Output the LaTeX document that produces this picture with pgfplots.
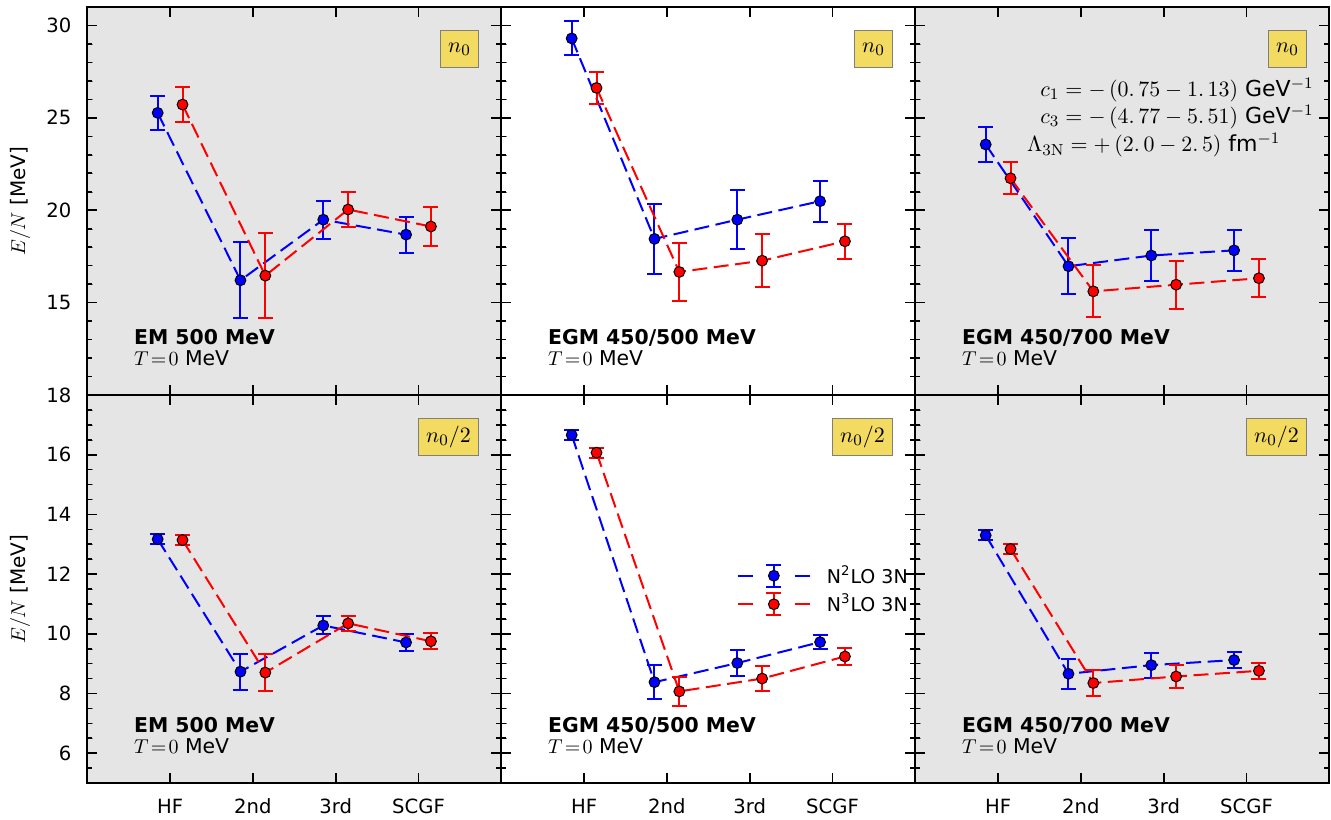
\documentclass[border=0pt]{standalone}
\usepackage[no-math]{fontspec}
\setmainfont{DejaVu Sans}
\usepackage{pgfplots}
\pgfplotsset{compat=1.18}
\usepgfplotslibrary{groupplots}
\usetikzlibrary{calc}

\definecolor{panelgray}{HTML}{E5E5E5}
\definecolor{boxyellow}{HTML}{F3DA60}
\definecolor{boxedge}{HTML}{7F7F7F}

\pgfplotsset{
  panel/.style={
    width=207pt, height=194pt, scale only axis,
    xmin=-1, xmax=4, xtick={0,1,2,3},
    xticklabels={HF,2nd,3rd,SCGF},
    every outer x axis line/.append style={line width=1pt},
    every outer y axis line/.append style={line width=1pt},
    /pgf/number format/assume math mode=true,
    tick label style={font=\fontsize{9.8}{11}\selectfont},
    xticklabel style={yshift=-4.5pt},
    yticklabel style={xshift=-4.5pt},
    ylabel style={at={(axis description cs:-0.1626,0.5)}, anchor=center, font=\fontsize{10}{12}\selectfont},
  },
  toprow/.style={ymin=10, ymax=31, ytick={15,20,25,30}, minor y tick num=4},
  botrow/.style={ymin=5, ymax=18, ytick={6,8,...,18}, minor y tick num=3},
  gray bg/.style={axis background/.style={fill=panelgray}},
  series/.style={
    color=#1, dash pattern=on 7.5pt off 3.25pt, line width=1pt,
    mark=*, mark size=2.7pt,
    mark options={solid, fill=#1, draw=black, line width=0.5pt},
    error bars/y dir=both, error bars/y explicit,
    error bars/error bar style={solid, line width=1pt, color=#1},
    error bars/error mark=-,
    error bars/error mark options={rotate=90, solid, mark size=3.75pt, line width=1pt, color=#1},
  },
}
\tikzset{
  tk/.style={black, line width=0.8pt, solid},
  nlab/.style={draw=boxedge, fill=boxyellow, anchor=north east, minimum height=18.5pt,
    inner xsep=4pt, line width=0.6pt, font=\fontsize{11}{13}\selectfont},
  plab/.style={anchor=base west, inner sep=0pt, font=\bfseries\fontsize{10.2}{12}\selectfont},
  tlab/.style={anchor=base west, inner sep=0pt, font=\fontsize{10.2}{12}\selectfont},
  clab/.style={anchor=base west, inner sep=0pt, font=\fontsize{11}{13}\selectfont},
}

% inward ticks on the four sides of a panel:
% #1 panel name, #2 number of y steps, #3 major y steps, #4 minor divisions
\newcommand{\panelticks}[4]{%
  \foreach \t in {0.2,0.4,0.6,0.8} {
    \draw[tk] ($(#1.south west)!\t!(#1.south east)$) -- ++(0,5pt);
    \draw[tk] ($(#1.north west)!\t!(#1.north east)$) -- ++(0,-5pt);
  }
  \foreach \k in {#3} {
    \draw[tk] ($(#1.south west)!{\k/#2}!(#1.north west)$) -- ++(5pt,0);
    \draw[tk] ($(#1.south east)!{\k/#2}!(#1.north east)$) -- ++(-5pt,0);
  }
  \foreach \k in {1,...,#4} {
    \draw[tk] ($(#1.south west)!{\k/(#4+1)}!(#1.north west)$) -- ++(2.5pt,0);
    \draw[tk] ($(#1.south east)!{\k/(#4+1)}!(#1.north east)$) -- ++(-2.5pt,0);
  }
}

\begin{document}
\begin{tikzpicture}
\begin{groupplot}[
  group style={group name=G, group size=3 by 2, horizontal sep=0pt, vertical sep=0pt,
    xticklabels at=edge bottom, yticklabels at=edge left, ylabels at=edge left},
  panel,
]
% ---- n0, EM 500
\nextgroupplot[toprow, gray bg, ylabel={$E/N$ [MeV]}]
\addplot[series=blue] coordinates {
  (-0.15,25.27) +- (0,0.92) (0.85,16.21) +- (0,2.05) (1.85,19.49) +- (0,1.02) (2.85,18.68) +- (0,0.97)};
\addplot[series=red] coordinates {
  (0.15,25.72) +- (0,0.97) (1.15,16.46) +- (0,2.30) (2.15,20.04) +- (0,0.97) (3.15,19.12) +- (0,1.05)};
\node[nlab] at (rel axis cs:0.947,0.941) {$n_0$};
\node[plab] at (rel axis cs:0.112,0.131) {EM 500 MeV};
\node[tlab] at (rel axis cs:0.112,0.077) {$T\!=\!0$ MeV};
% ---- n0, EGM 450/500
\nextgroupplot[toprow]
\addplot[series=blue] coordinates {
  (-0.15,29.30) +- (0,0.92) (0.85,18.45) +- (0,1.90) (1.85,19.49) +- (0,1.60) (2.85,20.49) +- (0,1.12)};
\addplot[series=red] coordinates {
  (0.15,26.62) +- (0,0.85) (1.15,16.66) +- (0,1.56) (2.15,17.27) +- (0,1.45) (3.15,18.32) +- (0,0.95)};
\node[nlab] at (rel axis cs:0.947,0.941) {$n_0$};
\node[plab] at (rel axis cs:0.112,0.131) {EGM 450/500 MeV};
\node[tlab] at (rel axis cs:0.112,0.077) {$T\!=\!0$ MeV};
% ---- n0, EGM 450/700
\nextgroupplot[toprow, gray bg]
\addplot[series=blue] coordinates {
  (-0.15,23.56) +- (0,0.93) (0.85,16.97) +- (0,1.52) (1.85,17.55) +- (0,1.37) (2.85,17.83) +- (0,1.12)};
\addplot[series=red] coordinates {
  (0.15,21.73) +- (0,0.87) (1.15,15.61) +- (0,1.40) (2.15,15.97) +- (0,1.31) (3.15,16.32) +- (0,1.03)};
\node[nlab] at (rel axis cs:0.947,0.941) {$n_0$};
\node[plab] at (rel axis cs:0.112,0.131) {EGM 450/700 MeV};
\node[tlab] at (rel axis cs:0.112,0.077) {$T\!=\!0$ MeV};
\node[clab] at (rel axis cs:0.301,0.769) {$c_1=-\,(0.\,75-1.\,13)$ GeV$^{-1}$};
\node[clab] at (rel axis cs:0.301,0.700) {$c_3=-\,(4.\,77-5.\,51)$ GeV$^{-1}$};
\node[clab] at (rel axis cs:0.269,0.627) {$\Lambda_{\mathrm{3N}}=+\,(2.\,0-2.\,5)$ fm$^{-1}$};
% ---- n0/2, EM 500
\nextgroupplot[botrow, gray bg, ylabel={$E/N$ [MeV]}]
\addplot[series=blue] coordinates {
  (-0.15,13.17) +- (0,0.17) (0.85,8.73) +- (0,0.60) (1.85,10.28) +- (0,0.30) (2.85,9.71) +- (0,0.27)};
\addplot[series=red] coordinates {
  (0.15,13.14) +- (0,0.17) (1.15,8.70) +- (0,0.63) (2.15,10.35) +- (0,0.26) (3.15,9.75) +- (0,0.27)};
\node[nlab] at (rel axis cs:0.947,0.941) {$n_0/2$};
\node[plab] at (rel axis cs:0.112,0.129) {EM 500 MeV};
\node[tlab] at (rel axis cs:0.112,0.075) {$T\!=\!0$ MeV};
% ---- n0/2, EGM 450/500
\nextgroupplot[botrow,
  legend style={draw=none, fill=none, at={(rel axis cs:0.568,0.572)}, anchor=north west,
    inner sep=0pt, font=\fontsize{9.5}{11}\selectfont, row sep=0pt,
    legend cell align=left},
  legend image code/.code={%
    \draw[#1, solid, mark=none] (0pt,0pt) -- (7.5pt,0pt) (28.5pt,0pt) -- (36pt,0pt);%
    \draw[#1, solid, mark=none] (14.25pt,-5.5pt) -- (21.75pt,-5.5pt) (18pt,-5.5pt) -- (18pt,5.5pt) (14.25pt,5.5pt) -- (21.75pt,5.5pt);%
    \path[#1] plot coordinates {(18pt,0pt)};%
  },
]
\addplot[series=blue] coordinates {
  (-0.15,16.66) +- (0,0.17) (0.85,8.38) +- (0,0.58) (1.85,9.02) +- (0,0.45) (2.85,9.72) +- (0,0.24)};
\addlegendentry{\hspace*{6pt}N\textsuperscript{2}LO 3N}
\addplot[series=red] coordinates {
  (0.15,16.07) +- (0,0.17) (1.15,8.07) +- (0,0.48) (2.15,8.50) +- (0,0.41) (3.15,9.24) +- (0,0.27)};
\addlegendentry{\hspace*{6pt}N\textsuperscript{3}LO 3N}
\node[nlab] at (rel axis cs:0.947,0.941) {$n_0/2$};
\node[plab] at (rel axis cs:0.112,0.129) {EGM 450/500 MeV};
\node[tlab] at (rel axis cs:0.112,0.075) {$T\!=\!0$ MeV};
% ---- n0/2, EGM 450/700
\nextgroupplot[botrow, gray bg]
\addplot[series=blue] coordinates {
  (-0.15,13.30) +- (0,0.17) (0.85,8.66) +- (0,0.50) (1.85,8.95) +- (0,0.42) (2.85,9.12) +- (0,0.28)};
\addplot[series=red] coordinates {
  (0.15,12.84) +- (0,0.17) (1.15,8.35) +- (0,0.45) (2.15,8.57) +- (0,0.40) (3.15,8.76) +- (0,0.27)};
\node[nlab] at (rel axis cs:0.947,0.941) {$n_0/2$};
\node[plab] at (rel axis cs:0.112,0.129) {EGM 450/700 MeV};
\node[tlab] at (rel axis cs:0.112,0.075) {$T\!=\!0$ MeV};
\end{groupplot}
% tick marks: top row spans 10..31 (21 units), bottom row 5..18 (13 units, minor every 0.5)
\panelticks{G c1r1}{21}{5,10,15,20}{20}
\panelticks{G c2r1}{21}{5,10,15,20}{20}
\panelticks{G c3r1}{21}{5,10,15,20}{20}
\panelticks{G c1r2}{13}{1,3,5,7,9,11,13}{25}
\panelticks{G c2r2}{13}{1,3,5,7,9,11,13}{25}
\panelticks{G c3r2}{13}{1,3,5,7,9,11,13}{25}
\pgfresetboundingbox
\path (G c1r1.north west) ++(-43.65pt,3.5pt) (G c3r2.south east) ++(0.85pt,-18pt);
\end{tikzpicture}
\end{document}
